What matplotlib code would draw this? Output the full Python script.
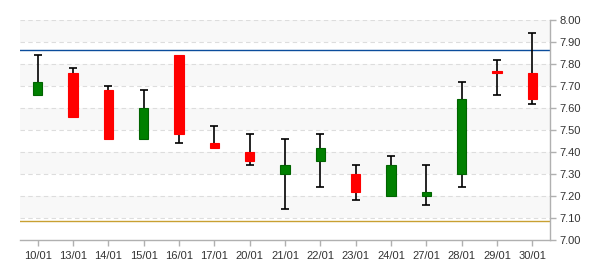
import matplotlib
matplotlib.use('Agg')
import matplotlib.pyplot as plt
import numpy as np

plt.rcParams['font.family'] = ['Liberation Sans', 'DejaVu Sans']

# daily candles (date, open, high, low, close)
dates = ['10/01', '13/01', '14/01', '15/01', '16/01', '17/01', '20/01', '21/01',
         '22/01', '23/01', '24/01', '27/01', '28/01', '29/01', '30/01']
opens = [7.66, 7.76, 7.68, 7.46, 7.84, 7.44, 7.40, 7.30, 7.36, 7.30, 7.20, 7.20, 7.30, 7.77, 7.76]
highs = [7.84, 7.78, 7.70, 7.68, 7.84, 7.52, 7.48, 7.46, 7.48, 7.34, 7.38, 7.34, 7.72, 7.82, 7.94]
lows = [7.66, 7.56, 7.46, 7.46, 7.44, 7.42, 7.34, 7.14, 7.24, 7.18, 7.20, 7.16, 7.24, 7.66, 7.62]
closes = [7.72, 7.56, 7.46, 7.60, 7.48, 7.42, 7.36, 7.34, 7.42, 7.22, 7.34, 7.22, 7.64, 7.76, 7.64]

upper_line = 7.865
lower_line = 7.085
y_ticks = np.round(np.arange(7.0, 8.001, 0.1), 2)

fig = plt.figure(figsize=(6, 2.7), dpi=100)
ax = fig.add_axes([20 / 600, 30 / 270, 530 / 600, 220 / 270])

x = np.arange(len(dates))

# alternating bands
for i, lo in enumerate(y_ticks[:-1]):
    if i % 2 == 0:
        ax.axhspan(y_ticks[-1 - i - 1], y_ticks[-1 - i], color='#f8f8f8', zorder=0, lw=0)
for t in y_ticks[1:]:
    ax.axhline(t, color='#dddddd', lw=0.8, ls=(0, (4, 3)), zorder=1)

ax.axhline(upper_line, color='#0b4d9c', lw=1, zorder=2)
ax.axhline(lower_line, color='#c8a032', lw=1, zorder=2)

body_w = 0.26
cap_w = 0.22
for xi, o, h, l, c in zip(x, opens, highs, lows, closes):
    top, bot = max(o, c), min(o, c)
    ax.vlines(xi, l, h, color='black', lw=1.2, zorder=3)
    if h > top + 0.001:
        ax.hlines(h, xi - cap_w / 2, xi + cap_w / 2, color='black', lw=1.2, zorder=3)
    if l < bot - 0.001:
        ax.hlines(l, xi - cap_w / 2, xi + cap_w / 2, color='black', lw=1.2, zorder=3)
    if c >= o:
        fc, ec = '#008000', '#006400'
    else:
        fc, ec = '#ff0000', '#ff0000'
    hgt = max(top - bot, 0.004)
    ax.bar(xi, hgt, bottom=bot, width=body_w, color=fc, edgecolor=ec, lw=0.8, zorder=4)

ax.set_xlim(-0.5, len(dates) - 0.5)
ax.set_ylim(7.0, 8.0)
ax.set_xticks(x)
ax.set_xticklabels(dates)
ax.set_yticks(y_ticks)
ax.set_yticklabels(['%.2f' % t for t in y_ticks])
ax.yaxis.tick_right()

for s in ['top', 'left']:
    ax.spines[s].set_visible(False)
for s in ['bottom', 'right']:
    ax.spines[s].set_color('#b0b0b0')
    ax.spines[s].set_linewidth(1)
ax.tick_params(axis='both', colors='#b0b0b0', labelcolor='#333333', labelsize=8, length=4, width=1)
ax.tick_params(axis='x', pad=4)
ax.tick_params(axis='y', pad=3)
ax.set_facecolor('white')

fig.savefig('out.png', dpi=100)
